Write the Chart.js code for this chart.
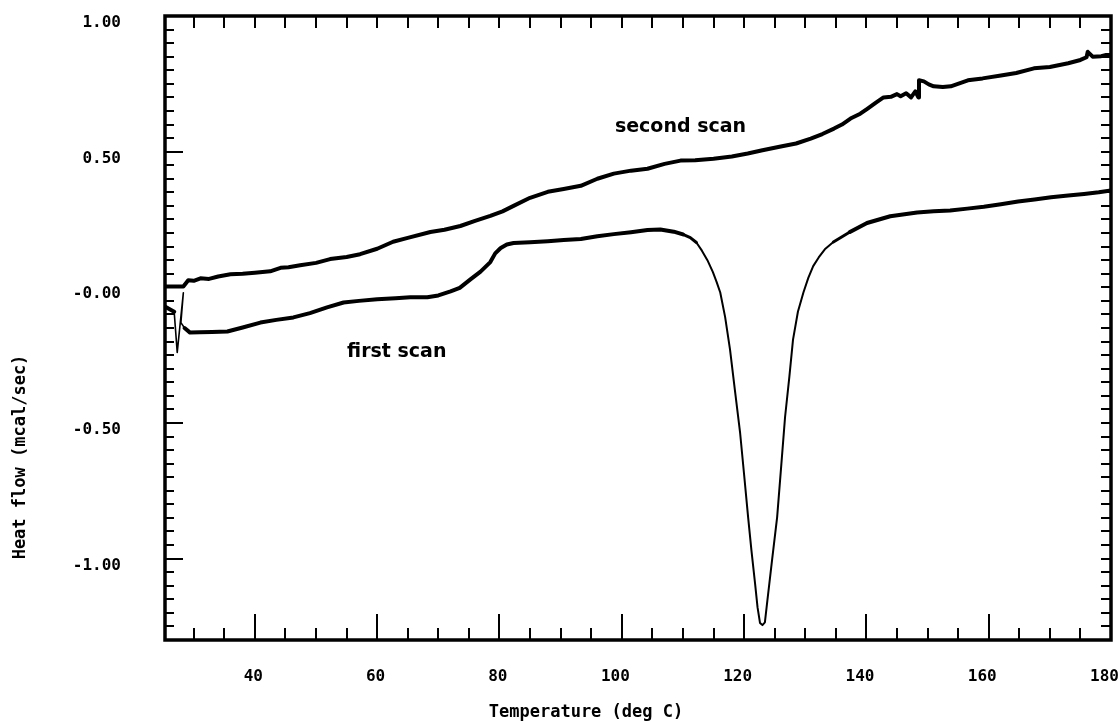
<!DOCTYPE html>
<html>
<head>
<meta charset="utf-8">
<script src="https://cdn.jsdelivr.net/npm/chart.js@4"></script>
<style>
html,body{margin:0;padding:0;background:#fff;}
#wrap{width:1118px;height:721px;}
</style>
</head>
<body>
<div id="wrap"><canvas id="c" width="1118" height="721"></canvas></div>
<script>
// ---- data ----
const secondX = [25.2, 28.3, 29.1, 30.0, 31.1, 32.5, 34.0, 36.0, 38.0, 40.0, 42.5, 44.2, 45.5, 47.4, 50.0, 52.3, 55.0, 57.2, 60.0, 62.6, 65.0, 68.7, 71.0, 73.6, 76.0, 78.5, 80.5, 82.3, 85.0, 87.9, 90.5, 93.3, 96.0, 98.7, 101.5, 104.2, 107.0, 109.6, 112.0, 115.0, 118.0, 120.6, 123.0, 126.0, 128.5, 130.9, 132.8, 134.7, 136.0, 137.4, 139.0, 140.2, 141.5, 142.8, 144.0, 145.0, 145.6, 146.5, 147.3, 148.0, 148.5, 148.6, 149.4, 150.2, 151.0, 152.5, 153.8, 155.2, 156.6, 159.0, 162.0, 164.5, 167.4, 170.0, 173.0, 175.0, 176.0, 176.2, 177.0, 178.4, 179.2, 180.0];
const secondY = [0.003, 0.003, 0.026, 0.024, 0.033, 0.031, 0.040, 0.048, 0.050, 0.054, 0.059, 0.072, 0.074, 0.081, 0.090, 0.104, 0.112, 0.122, 0.142, 0.168, 0.182, 0.204, 0.212, 0.226, 0.245, 0.263, 0.280, 0.300, 0.330, 0.352, 0.362, 0.374, 0.400, 0.419, 0.430, 0.437, 0.455, 0.467, 0.468, 0.474, 0.482, 0.493, 0.505, 0.519, 0.530, 0.548, 0.565, 0.585, 0.600, 0.622, 0.640, 0.659, 0.680, 0.700, 0.702, 0.712, 0.704, 0.715, 0.700, 0.722, 0.700, 0.763, 0.759, 0.748, 0.741, 0.738, 0.741, 0.752, 0.763, 0.770, 0.781, 0.790, 0.807, 0.812, 0.826, 0.838, 0.848, 0.868, 0.850, 0.852, 0.856, 0.856];

const firstX = [25.2, 26.0, 26.8, 27.3, 28.3, 27.9, 28.5, 29.4, 31.0, 33.0, 35.5, 38.0, 40.9, 43.5, 46.3, 49.0, 51.8, 54.5, 57.0, 60.0, 63.0, 65.4, 68.2, 70.0, 72.0, 73.5, 75.3, 76.9, 78.5, 79.3, 80.2, 81.2, 82.3, 85.0, 87.9, 90.5, 93.3, 96.0, 98.7, 101.5, 104.2, 106.3, 108.5, 110.0, 111.2, 112.2, 113.1, 114.0, 114.9, 115.5, 116.1, 116.9, 117.7, 118.5, 119.35, 120.0, 120.66, 121.2, 121.8, 122.2, 122.6, 123.0, 123.4, 123.8, 124.6, 125.4, 126.1, 126.7, 127.4, 128.0, 128.8, 129.7, 130.5, 131.3, 132.2, 133.2, 134.6, 137.3, 140.1, 143.9, 148.3, 151.0, 153.7, 156.5, 159.2, 162.0, 164.8, 167.5, 170.2, 173.0, 175.6, 178.0, 180.0];
const firstY = [-0.070, -0.080, -0.090, -0.240, -0.020, -0.130, -0.150, -0.167, -0.166, -0.165, -0.163, -0.148, -0.130, -0.120, -0.111, -0.095, -0.074, -0.056, -0.050, -0.044, -0.040, -0.037, -0.037, -0.030, -0.015, -0.002, 0.030, 0.058, 0.093, 0.125, 0.145, 0.158, 0.163, 0.166, 0.170, 0.174, 0.178, 0.188, 0.196, 0.203, 0.211, 0.213, 0.205, 0.195, 0.183, 0.165, 0.135, 0.100, 0.056, 0.020, -0.019, -0.110, -0.230, -0.380, -0.537, -0.690, -0.848, -0.970, -1.093, -1.180, -1.237, -1.245, -1.235, -1.156, -1.000, -0.848, -0.650, -0.478, -0.330, -0.193, -0.090, -0.019, 0.035, 0.078, 0.110, 0.140, 0.167, 0.204, 0.237, 0.262, 0.276, 0.280, 0.283, 0.290, 0.297, 0.306, 0.316, 0.324, 0.332, 0.338, 0.344, 0.350, 0.357];

const xTickValues = [40, 60, 80, 100, 120, 140, 160, 180];
const xTickLabels = ['40', '60', '80', '100', '120', '140', '160', '180'];
const yTickValues = [1.0, 0.5, 0.0, -0.5, -1.0];
const yTickLabels = ['1.00', '0.50', '-0.00', '-0.50', '-1.00'];

const seriesLabels = ['first scan', 'second scan'];
// text label anchors (data coordinates)
const annotations = [
  {text: 'second scan', x: 109.6, y: 0.59},
  {text: 'first scan', x: 63.2, y: -0.237}
];

const X_MIN = 25.3, X_MAX = 180, Y_MIN = -1.30, Y_MAX = 1.0;

function pts(xs, ys) { return xs.map((x, i) => ({x: x, y: ys[i]})); }

const framePlugin = {
  id: 'frame',
  afterDatasetsDraw(chart) {
    const {ctx, chartArea: a, scales} = chart;
    const xs = scales.x, ys = scales.y;
    ctx.save();
    ctx.strokeStyle = '#000';
    ctx.lineCap = 'butt';
    // ticks
    ctx.lineWidth = 2;
    ctx.beginPath();
    for (let v = 30; v <= 175.001; v += 5) {
      const px = Math.round(xs.getPixelForValue(v));
      const major = Math.abs(v % 20) < 1e-6;
      ctx.moveTo(px, a.bottom); ctx.lineTo(px, a.bottom - (major ? 26 : 12));
      ctx.moveTo(px, a.top); ctx.lineTo(px, a.top + 12);
    }
    for (let k = -25; k <= 19; k++) {
      const v = k * 0.05;
      const py = Math.round(ys.getPixelForValue(v));
      const major = (k % 10 === 0);
      ctx.moveTo(a.left, py); ctx.lineTo(a.left + (major ? 18 : 9), py);
      ctx.moveTo(a.right, py); ctx.lineTo(a.right - 10, py);
    }
    ctx.stroke();
    // box
    ctx.lineWidth = 3.5;
    ctx.strokeRect(a.left, a.top, a.right - a.left, a.bottom - a.top);
    // series text labels
    ctx.fillStyle = '#000';
    ctx.font = 'bold 19px "DejaVu Sans"';
    ctx.textAlign = 'center';
    ctx.textBaseline = 'middle';
    annotations.forEach(an => {
      ctx.fillText(an.text, xs.getPixelForValue(an.x), ys.getPixelForValue(an.y));
    });
    // axis titles
    ctx.font = 'bold 17px "DejaVu Sans Mono"';
    ctx.fillText('Temperature (deg C)', 586, 713);
    ctx.translate(21, 457);
    ctx.rotate(-Math.PI / 2);
    ctx.fillText('Heat flow (mcal/sec)', 0, 0);
    ctx.restore();
  }
};

new Chart(document.getElementById('c'), {
  type: 'scatter',
  data: {
    datasets: [
      {
        label: seriesLabels[0],
        data: pts(firstX, firstY),
        showLine: true,
        borderColor: '#000',
        borderWidth: 4,
        pointRadius: 0,
        tension: 0,
        borderJoinStyle: 'round',
        borderCapStyle: 'round',
        segment: {
          borderWidth: c => {
            const x0 = c.p0.parsed.x, x1 = c.p1.parsed.x;
            if (c.p0DataIndex >= 2 && c.p0DataIndex <= 5) return 1.6;
            if (x0 >= 112.2 && x1 <= 134.6) return 2;
            if (x0 >= 110.0 && x1 <= 137.3) return 3;
            return 4;
          }
        }
      },
      {
        label: seriesLabels[1],
        data: pts(secondX, secondY),
        showLine: true,
        borderColor: '#000',
        borderWidth: 4,
        pointRadius: 0,
        tension: 0,
        borderJoinStyle: 'round'
      }
    ]
  },
  options: {
    responsive: false,
    animation: false,
    events: [],
    layout: {padding: {top: 16, right: 7, left: 0, bottom: 0}},
    plugins: {legend: {display: false}, tooltip: {enabled: false}, title: {display: false}},
    scales: {
      x: {
        type: 'linear',
        min: X_MIN, max: X_MAX,
        grid: {display: false, drawTicks: false},
        border: {display: false},
        afterFit: s => { s.height = 81; s.paddingLeft = 0; s.paddingRight = 0; },
        ticks: {
          stepSize: 20,
          autoSkip: false,
          maxRotation: 0,
          align: 'end',
          labelOffset: 8,
          padding: 27,
          color: '#000',
          font: {family: '"DejaVu Sans Mono"', size: 16, weight: 'bold'},
          callback: v => {
            const i = xTickValues.findIndex(t => Math.abs(t - v) < 1e-6);
            return i >= 0 ? xTickLabels[i] : '';
          }
        }
      },
      y: {
        type: 'linear',
        min: Y_MIN, max: Y_MAX,
        grid: {display: false, drawTicks: false},
        border: {display: false},
        afterFit: s => { s.width = 165; s.paddingTop = 0; s.paddingBottom = 0; },
        ticks: {
          stepSize: 0.5,
          autoSkip: false,
          padding: 44,
          labelOffset: 7,
          color: '#000',
          font: {family: '"DejaVu Sans Mono"', size: 16, weight: 'bold'},
          callback: v => {
            const i = yTickValues.findIndex(t => Math.abs(t - v) < 1e-6);
            return i >= 0 ? yTickLabels[i] : '';
          }
        }
      }
    }
  },
  plugins: [framePlugin]
});
</script>
</body>
</html>
